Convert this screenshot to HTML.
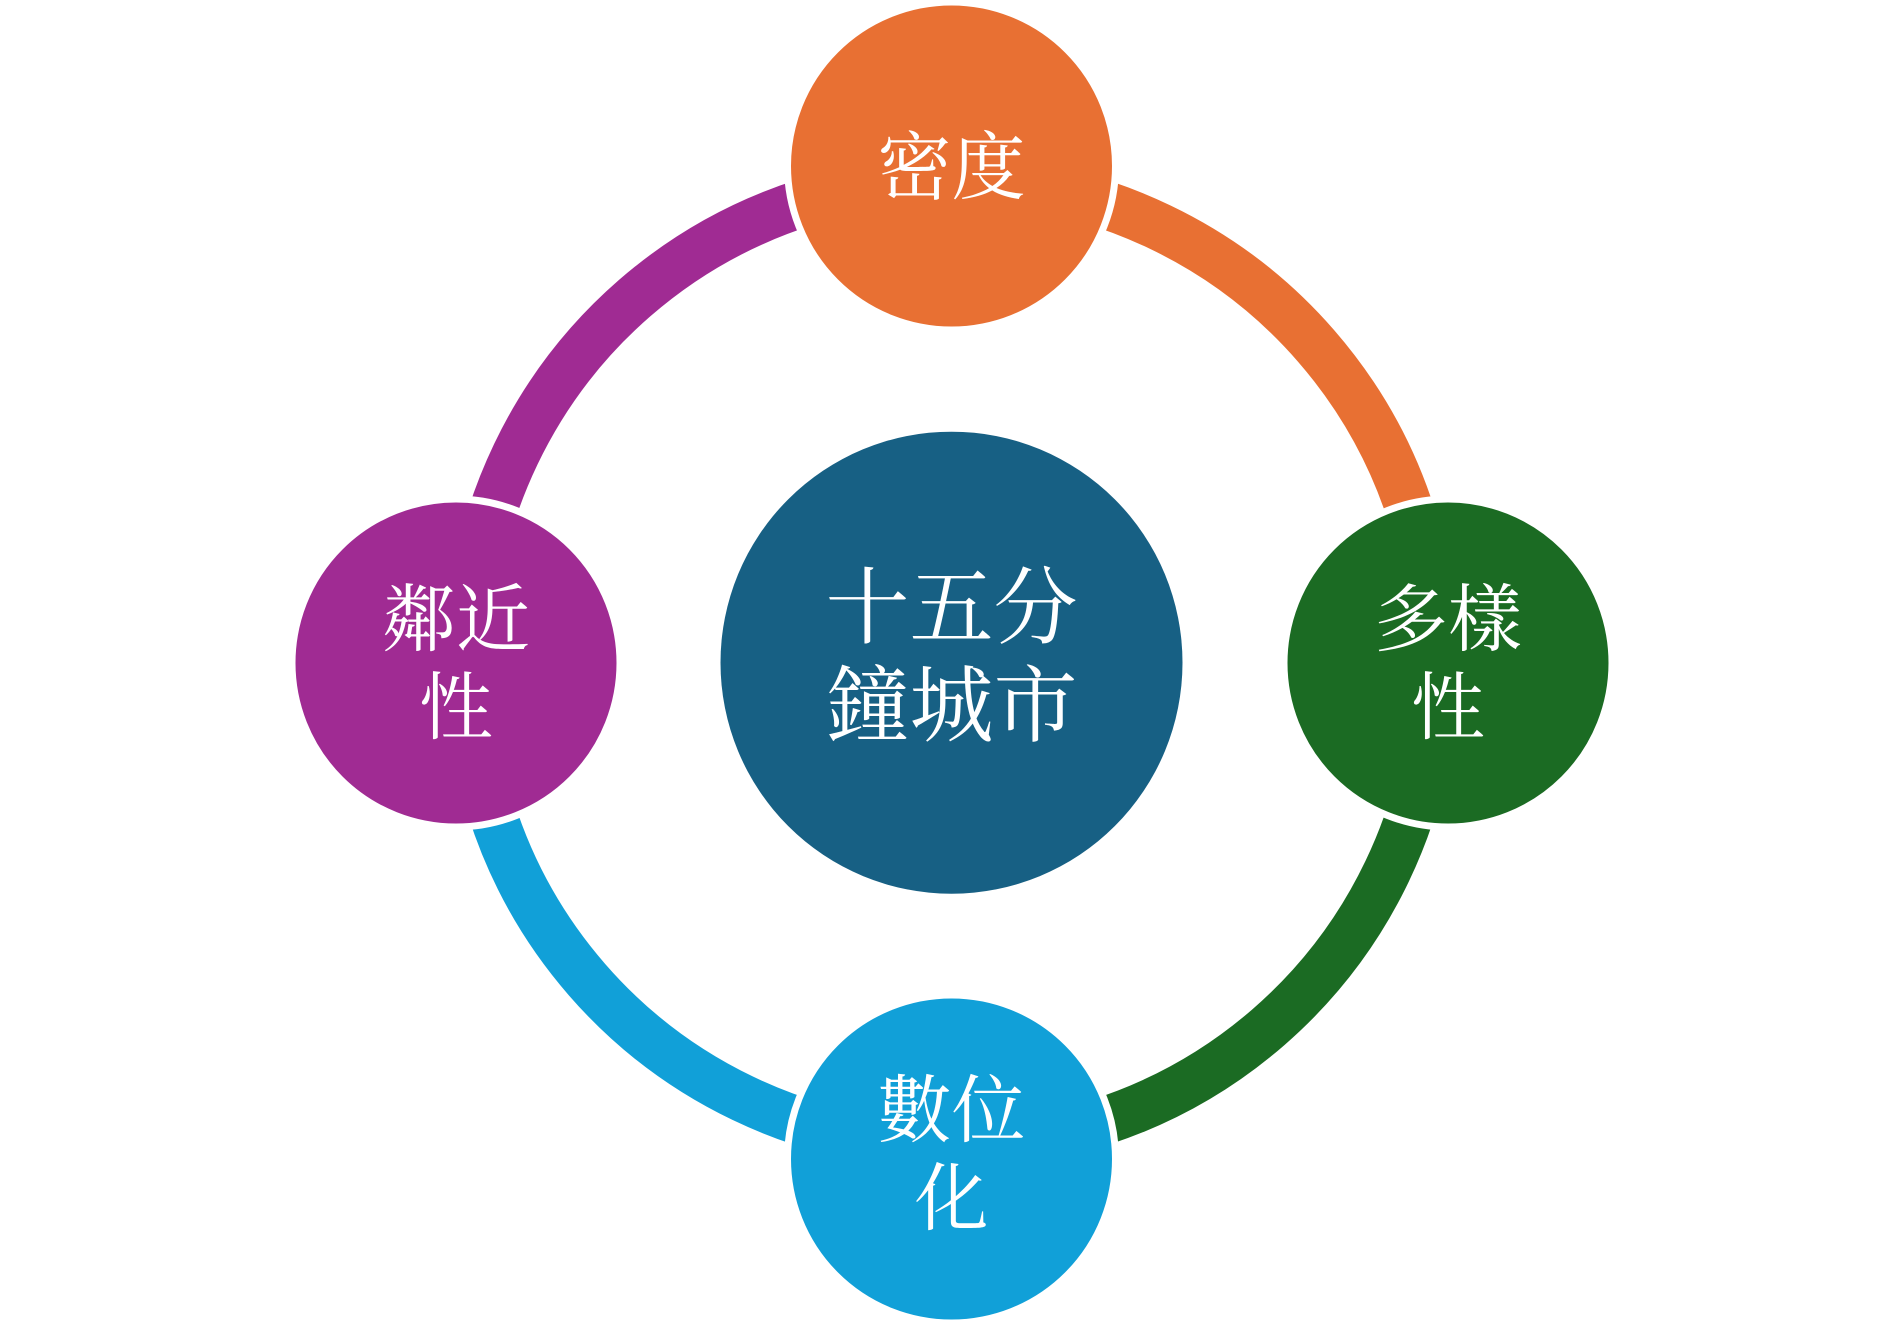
<!DOCTYPE html>
<html><head><meta charset="utf-8"><style>
html,body{margin:0;padding:0;background:#fff;}
svg{display:block}
text{font-family:"Liberation Serif","Noto Serif CJK SC","Noto Serif CJK TC",serif;fill:#fff;text-anchor:middle;}
</style></head><body>
<svg width="1903" height="1326" viewBox="0 0 1903 1326">
<g fill="none" stroke-width="48">
<path d="M951.5,179.7 A483,483 0 0 1 1434.5,662.7" stroke="#E87033" transform="rotate(4 951.5 662.7)"/>
<path d="M1434.5,662.7 A483,483 0 0 1 951.5,1145.7" stroke="#1B6B23" transform="rotate(4 951.5 662.7)"/>
<path d="M951.5,1145.7 A483,483 0 0 1 468.5,662.7" stroke="#11A0D8" transform="rotate(4 951.5 662.7)"/>
<path d="M468.5,662.7 A483,483 0 0 1 951.5,179.7" stroke="#A02B93" transform="rotate(4 951.5 662.7)"/>
</g>
<g stroke="#fff" stroke-width="7">
<circle cx="951.5" cy="166" r="164" fill="#E87033"/>
<circle cx="1448" cy="663" r="164" fill="#1B6B23"/>
<circle cx="951.5" cy="1159" r="164" fill="#11A0D8"/>
<circle cx="456" cy="663" r="164" fill="#A02B93"/>
</g>
<circle cx="951.5" cy="662.7" r="231" fill="#176084"/>
<text x="951.5" y="193" font-size="74">密度</text>
<text x="1448" y="645" font-size="74">多樣</text>
<text x="1448" y="733" font-size="74">性</text>
<text x="456" y="645" font-size="74">鄰近</text>
<text x="456" y="733" font-size="74">性</text>
<text x="951.5" y="1136" font-size="74">數位</text>
<text x="951.5" y="1224" font-size="74">化</text>
<text x="951.5" y="637" font-size="84">十五分</text>
<text x="951.5" y="735" font-size="84">鐘城市</text>
</svg>
</body></html>
